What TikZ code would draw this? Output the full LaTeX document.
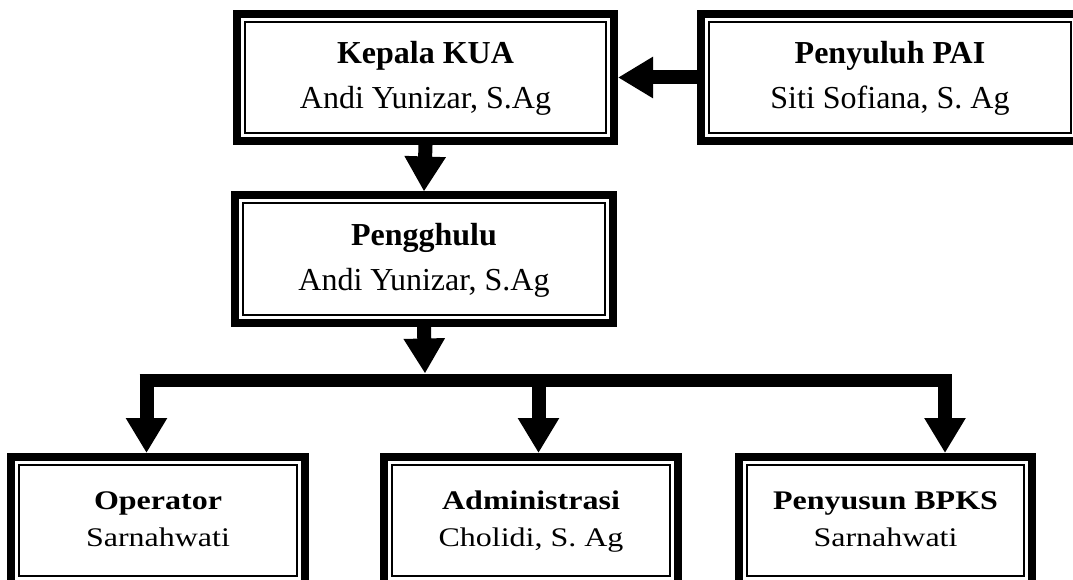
\documentclass[tikz,border=0pt]{standalone}
\usepackage{fontspec}
\setmainfont{Liberation Serif}
\usetikzlibrary{arrows.meta}
\newcommand\orglbl[2]{\fontsize{32}{45}\selectfont\begin{tabular}{@{}c@{}}\textbf{#1}\\#2\end{tabular}}
\newcommand\orglblsq[2]{\scalebox{1}[0.84]{\orglbl{#1}{#2}}}
\tikzset{
  orgbox/.style={draw=black, line width=8pt, outer sep=4pt, inner sep=0pt,
    minimum width=#1, minimum height=127pt, fill=white},
  orgbox/.default=377pt,
  innerline/.style={draw=black, line width=2pt},
  bigarrow/.style={draw=black, line width=14pt, -{Triangle[width=39pt 0 0,length=35pt 0 0]}},
  barline/.style={draw=black, line width=13pt}
}
\begin{document}
\begin{tikzpicture}[x=1pt,y=-1pt]
\useasboundingbox (0,0) rectangle (1073,580);
\clip (0,0) rectangle (1073,580);
\fill[white] (0,0) rectangle (1073,580);

\node[orgbox=377pt] (kep) at (425.5,77.5) {\orglbl{Kepala KUA}{Andi Yunizar, S.Ag}};
\node[orgbox=378pt] (pny) at (890,77.5) {\orglbl{Penyuluh PAI}{Siti Sofiana, S. Ag}};
\node[orgbox=378pt] (pg) at (424,259) {\orglbl{Pengghulu}{Andi Yunizar, S.Ag}};
\node[orgbox=294pt] (op) at (158,520.5) {\orglblsq{Operator}{Sarnahwati}};
\node[orgbox=294pt] (adm) at (531,520.5) {\orglblsq{Administrasi}{Cholidi, S. Ag}};
\node[orgbox=293pt] (bp) at (885.5,520.5) {\orglblsq{Penyusun BPKS}{Sarnahwati}};

\foreach \n in {kep,pny,pg,op,adm,bp}
  \draw[innerline] ([shift={(12pt,-12pt)}]\n.north west) rectangle ([shift={(-12pt,12pt)}]\n.south east);

% connectors
\draw[bigarrow] (pny.west) -- (kep.east);
\draw[bigarrow] (kep.south) -- (pg.north);
\coordinate (hub) at (425,373.5);
\draw[bigarrow] (pg.south) -- (hub);

\coordinate (bl) at (139.5,380);
\coordinate (br) at (952,380);
\draw[barline] (bl) -- (br);

\coordinate (jl) at (146.5,374);
\coordinate (jm) at (538.5,380);
\coordinate (jr) at (945,374);
\draw[bigarrow] (jl) -- (jl |- op.north);
\draw[bigarrow] (jm) -- (jm |- adm.north);
\draw[bigarrow] (jr) -- (jr |- bp.north);
\end{tikzpicture}
\end{document}
